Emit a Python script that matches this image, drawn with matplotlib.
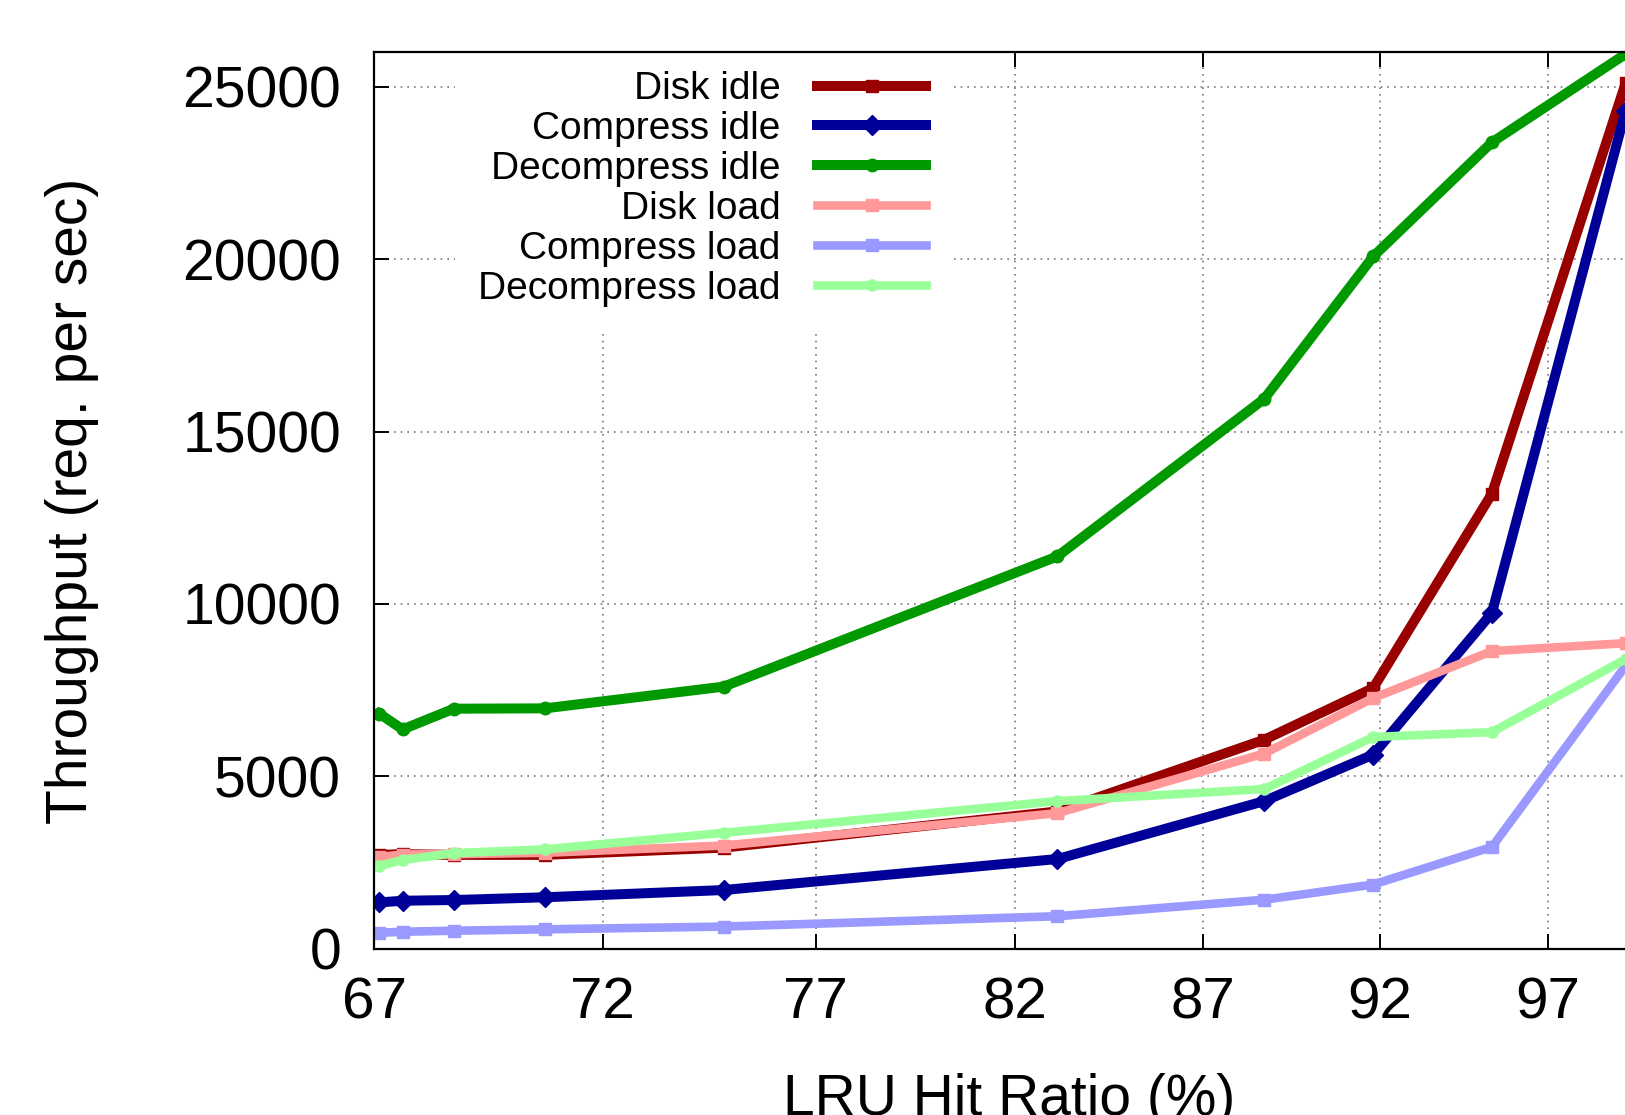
import matplotlib
matplotlib.use('Agg')
import matplotlib.pyplot as plt
from matplotlib.ticker import NullLocator, FixedLocator, FixedFormatter

plt.rcParams['font.family'] = ['Liberation Sans', 'DejaVu Sans']

# LRU hit ratio (%) for each cache size
hit_ratio = [67.1, 67.6, 68.7, 70.7, 74.8, 83.1, 88.7, 91.8, 95.3, 99.4]

# throughput, requests per second
disk_idle = [2720, 2740, 2720, 2720, 2930, 3980, 6060, 7560, 13200, 25100]
compress_idle = [1340, 1390, 1410, 1490, 1700, 2600, 4280, 5630, 9740, 24300]
decompress_idle = [6820, 6360, 6960, 6970, 7600, 11380, 15950, 20080, 23390, 25950]
disk_load = [2660, 2730, 2740, 2780, 2990, 3930, 5660, 7270, 8630, 8860]
compress_load = [460, 490, 520, 560, 640, 940, 1420, 1860, 2950, 8200]
decompress_load = [2400, 2570, 2770, 2880, 3360, 4280, 4630, 6140, 6280, 8400]

x_ticks = [67, 72, 77, 82, 87, 92, 97]
y_ticks = [0, 5000, 10000, 15000, 20000, 25000]

series = [
    ('Disk idle', disk_idle, '#990000', 's', 7.2, 9),
    ('Compress idle', compress_idle, '#000099', 'D', 7.2, 10),
    ('Decompress idle', decompress_idle, '#009900', 'o', 7.2, 9),
    ('Disk load', disk_load, '#ff9999', 's', 6.2, 8),
    ('Compress load', compress_load, '#9999ff', 's', 6.2, 8),
    ('Decompress load', decompress_load, '#99ff99', 'o', 6.2, 8),
]

fig = plt.figure(figsize=(16.25, 11.15), dpi=100)
# axes run a little past the right edge of the canvas
ax = fig.add_axes([0.2304, 0.1492, 0.7817, 0.8039])

for label, ys, color, mk, lw, ms in series:
    ax.plot(hit_ratio, ys, color=color, lw=lw, marker=mk, ms=ms,
            mec=color, mfc=color, label=label, solid_joinstyle='miter')

ax.set_xscale('log')
ax.set_xlim(67, 100)
ax.set_ylim(0, 26000)
ax.xaxis.set_major_locator(FixedLocator(x_ticks))
ax.xaxis.set_major_formatter(FixedFormatter([str(t) for t in x_ticks]))
ax.xaxis.set_minor_locator(NullLocator())
ax.set_yticks(y_ticks)

ax.grid(True, color='#777777', ls=(0, (1, 3)), lw=1.2)
ax.set_axisbelow(True)

for s in ax.spines.values():
    s.set_linewidth(1.6)
ax.tick_params(axis='both', which='major', direction='in', length=11, width=1.4,
               labelsize=40, top=True, right=True)
ax.tick_params(axis='x', pad=20, labelsize=42)
ax.tick_params(axis='y', pad=24, labelsize=41)

ax.set_ylabel('Throughput (req. per sec)', fontsize=41)
ax.yaxis.label.set_va('center')
ax.yaxis.set_label_coords(-0.2377, 0.5)
ax.set_xlabel('LRU Hit Ratio (%)', fontsize=41)
ax.xaxis.set_label_coords(0.5, -0.1387)

leg = ax.legend(loc='upper right', bbox_to_anchor=(0.4523, 1.005), fontsize=28,
                markerfirst=False, handlelength=2.78, handletextpad=0.95,
                labelspacing=0.1, borderpad=0.6, borderaxespad=0,
                frameon=True, fancybox=False, framealpha=1,
                facecolor='white', edgecolor='none', markerscale=1.0)
# key box hides the grid but stays under the frame and ticks
leg.set_zorder(2.2)

fig.savefig('out.png', dpi=100)
